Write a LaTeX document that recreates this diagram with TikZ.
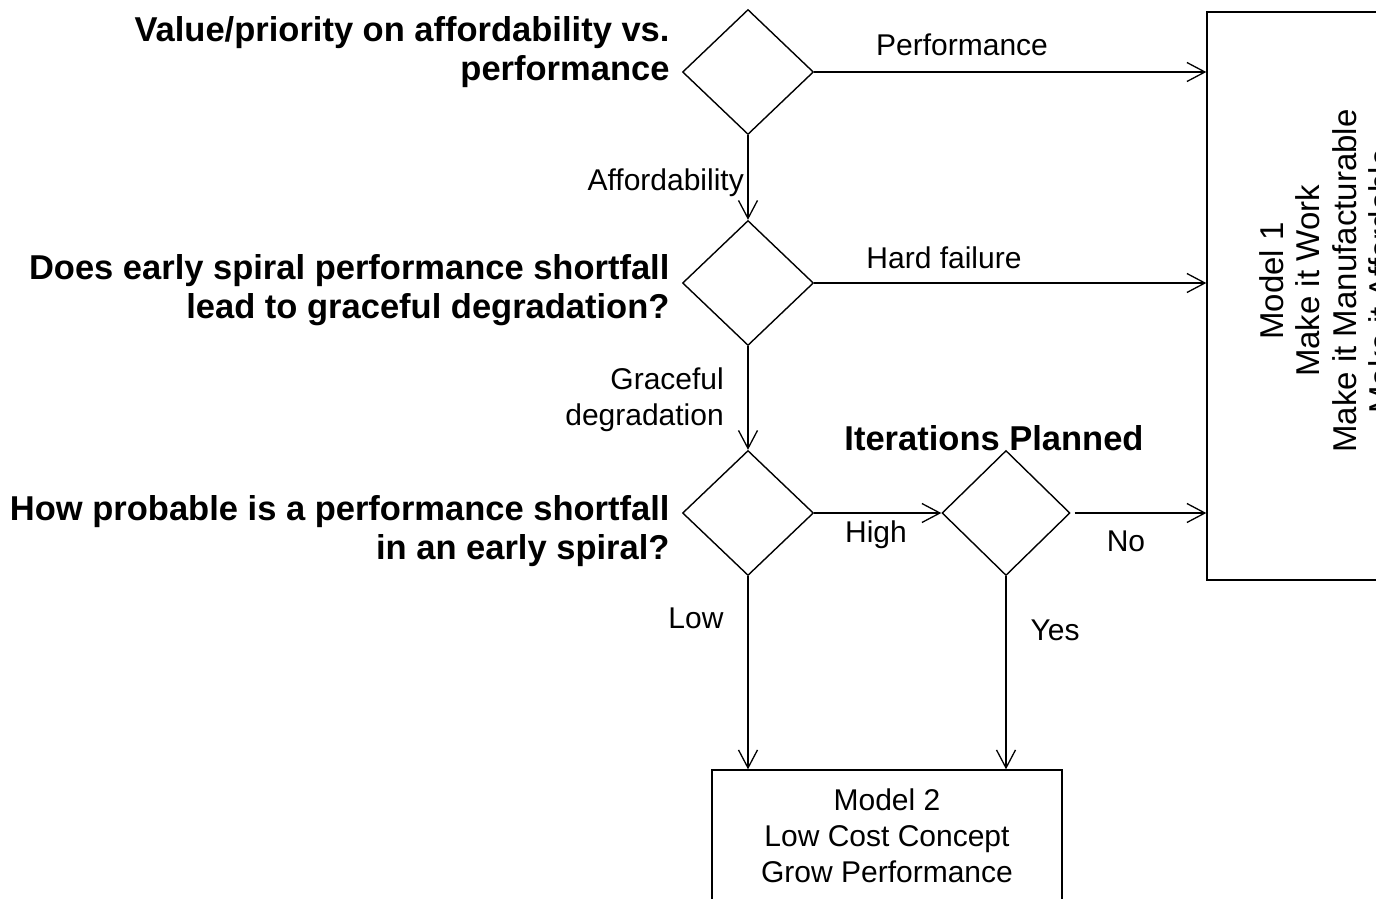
\documentclass[tikz,border=0pt]{standalone}
\usepackage{fontspec}
\setmainfont{Liberation Sans}
\usetikzlibrary{shapes.geometric,arrows.meta}
\begin{document}
\begin{tikzpicture}[x=1pt,y=-1pt,
  every node/.style={font=\fontsize{30}{36}\selectfont},
  decision/.style={draw,line width=1.4pt,shape=diamond,inner sep=0pt,
    minimum width=131pt,minimum height=125pt},
  question/.style={font=\bfseries\fontsize{34.5}{39}\selectfont,align=right,anchor=east},
  modelbox/.style={draw,line width=1.4pt,inner sep=0pt},
  flow/.style={line width=1.4pt,-{Straight Barb[length=18pt,width=19pt,line width=1.3pt]}},
  lbl/.style={inner sep=0pt}]
\useasboundingbox (0,0) rectangle (1376,898);
\clip (0,0) rectangle (1376,898);
\fill[white] (0,0) rectangle (1376,898);

% decisions
\node[decision] (d1) at (748,72) {};
\node[decision] (d2) at (748,283) {};
\node[decision] (d3) at (748,513) {};
\node[decision,minimum width=128pt] (d4) at (1006,513) {};

% outcome boxes
\node[modelbox,minimum width=238pt,minimum height=568pt] (box1) at (1326,296) {};
\node[rotate=90,align=center,font=\fontsize{33}{36.5}\selectfont] (m1text) at (1326,281)
  {Model 1\\Make it Work\\Make it Manufacturable\\Make it Affordable};
\node[modelbox,minimum width=350pt,minimum height=200pt] (box2) at (887,870) {};
\node[align=center] (m2text) at (887,836)
  {Model 2\\Low Cost Concept\\Grow Performance};

% questions
\node[question] (q1) at (673,52) {Value/priority on affordability vs.\\performance};
\node[question] (q2) at (673,290) {Does early spiral performance shortfall\\lead to graceful degradation?};
\node[question] (q3) at (673,531) {How probable is a performance shortfall\\in an early spiral?};
\node[font=\bfseries\fontsize{34.5}{39}\selectfont] (iter) at (994,438) {Iterations Planned};

% connectors
\draw[flow] (d1.east) -- (d1.east -| box1.west);
\draw[flow] (d1.south) -- (d2.north);
\draw[flow] (d2.east) -- (d2.east -| box1.west);
\draw[flow] (d2.south) -- (d3.north);
\draw[flow] (d3.east) -- (d4.west);
\draw[flow] ([xshift=4pt]d4.east) -- (d4.east -| box1.west);
\draw[flow] (d3.south) -- (d3.south |- box2.north);
\draw[flow] (d4.south) -- (d4.south |- box2.north);

% branch labels
\node[lbl] (lperf) at (962,45) {Performance};
\node[lbl,anchor=east] (laff) at (744,183) {Affordability};
\node[lbl] (lhard) at (944,258) {Hard failure};
\node[lbl,align=right,anchor=east] (lgrace) at (724,400) {Graceful\\degradation};
\node[lbl] (lhigh) at (876,535) {High};
\node[lbl] (lno) at (1126,541) {No};
\node[lbl] (llow) at (696,618) {Low};
\node[lbl] (lyes) at (1055,630) {Yes};
\end{tikzpicture}
\end{document}
